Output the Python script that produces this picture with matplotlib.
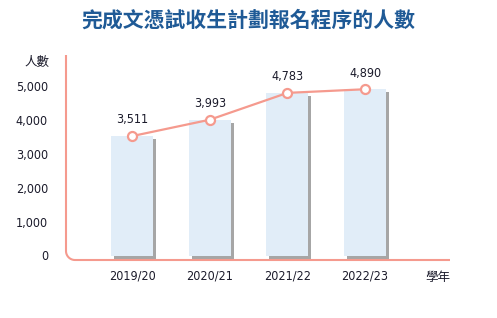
import numpy as np
import matplotlib
matplotlib.use("Agg")
import matplotlib.pyplot as plt
from matplotlib.lines import Line2D

years  = ["2019/20", "2020/21", "2021/22", "2022/23"]
counts = [3511, 3993, 4783, 4890]
yticks = [0, 1000, 2000, 3000, 4000, 5000]

TITLE   = "完成文憑試收生計劃報名程序的人數"
YLABEL  = "人數"
XLABEL  = "學年"

W, H = 497, 318
NUM_FONT = ["DejaVu Sans", "Noto Sans CJK TC"]
CJK_FONT = ["Noto Sans CJK TC", "DejaVu Sans"]
PINK = "#f59a8e"
BAR  = "#e1edf8"
SHAD = "#a6a6a6"
TXT  = "#1b1b2b"

fig = plt.figure(figsize=(W / 100, H / 100), dpi=100)

# axes in pixel terms: x 66..450, y 55..260 (from top)
ax = fig.add_axes([66 / W, 1 - 260 / H, (450 - 66) / W, (260 - 55) / H])
step = 77.7
x0 = 132
ax.set_xlim((66 - x0) / step, (450 - x0) / step)
ppk = 34.0  # pixels per 1000
zero = 255.5
ax.set_ylim((zero - 260) / ppk * 1000, (zero - 55) / ppk * 1000)

x = np.arange(len(years))
bw = 42 / step
dx = 3 / step
dy = 3 / ppk * 1000
ax.bar(x + dx, counts, width=bw, bottom=-dy, color=SHAD, zorder=1)
ax.bar(x, counts, width=bw, color=BAR, zorder=2)

ax.plot(x, counts, color=PINK, lw=1.6, zorder=3)
ax.plot(x, counts, "o", ms=6.5, mfc="white", mec=PINK, mew=1.6, zorder=4)
for xi, v in zip(x, counts):
    ax.annotate(f"{v:,}", (xi, v), xytext=(0, 7), textcoords="offset points",
                ha="center", va="bottom", fontsize=9, color=TXT,
                family=NUM_FONT, fontstretch="condensed")

for s in ax.spines.values():
    s.set_visible(False)
ax.set_yticks(yticks)
ax.set_yticklabels([f"{t:,}" for t in yticks], family=NUM_FONT, fontsize=9,
                   color=TXT, fontstretch="condensed")
ax.set_xticks(x)
ax.set_xticklabels(years, family=NUM_FONT, fontsize=9, color=TXT,
                   fontstretch="condensed")
ax.tick_params(axis="y", length=0, pad=13)
ax.tick_params(axis="x", length=0, pad=7)
ax.patch.set_alpha(0)

# rounded L-shaped axis line (figure pixel coords)
r = 9
left, top, bot, right = 66, 55, 260, 450
th = np.linspace(np.pi, 1.5 * np.pi, 20)
arc_x = left + r + r * np.cos(th)
arc_y = bot - r - r * np.sin(th)
px = np.concatenate([[left], arc_x, [right]])
py = np.concatenate([[top], arc_y, [bot]])
fig.add_artist(Line2D(px / W, 1 - py / H, color=PINK, lw=1.5,
                      transform=fig.transFigure, solid_capstyle="butt"))

fig.text(248 / W, 1 - 20 / H, TITLE, ha="center", va="center", fontsize=15,
         fontweight="bold", color="#1f5a96", family=CJK_FONT)
fig.text(37 / W, 1 - 62 / H, YLABEL, ha="center", va="center", fontsize=9,
         color=TXT, family=CJK_FONT)
fig.text(438 / W, 1 - 277 / H, XLABEL, ha="center", va="center", fontsize=9,
         color=TXT, family=CJK_FONT)

fig.savefig("out.png", dpi=100)
